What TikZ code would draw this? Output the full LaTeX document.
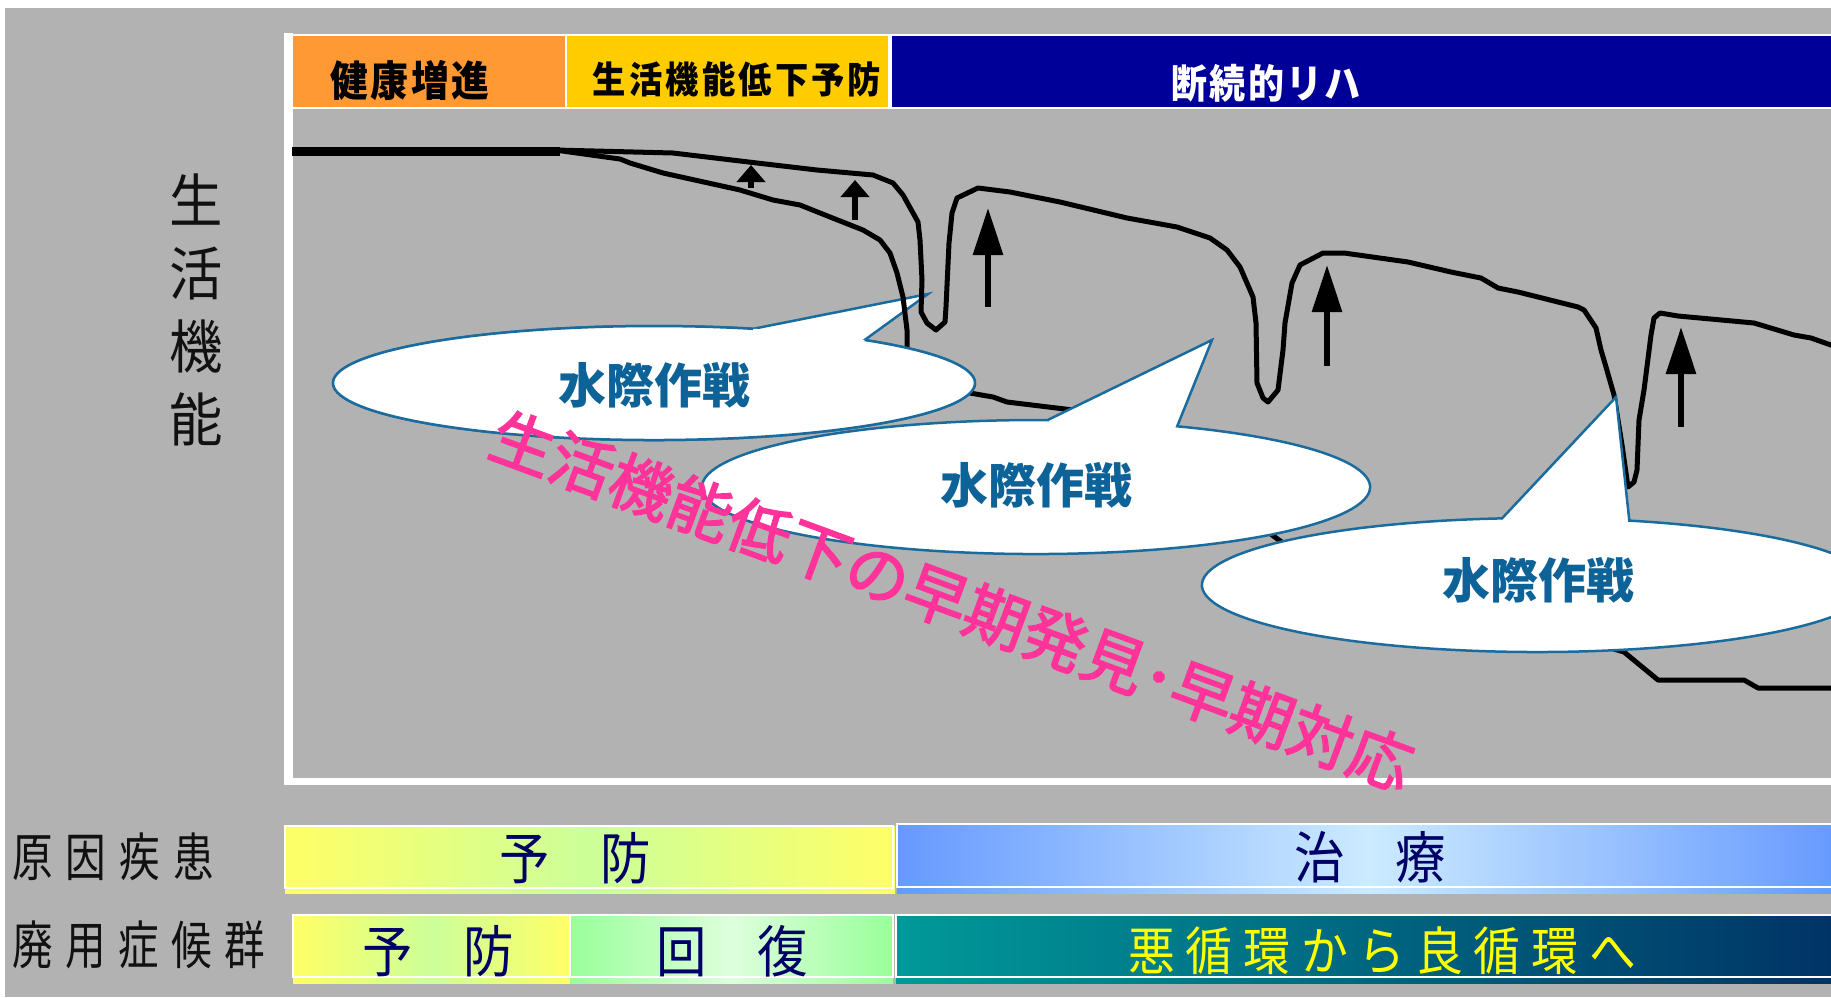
\documentclass[tikz,border=0pt]{standalone}
\usepackage{fontspec}
\newfontfamily\jp{Noto Sans CJK JP}
\usetikzlibrary{arrows.meta}
\definecolor{bgc}{HTML}{B2B2B2}
\definecolor{orangeh}{HTML}{FF9933}
\definecolor{yellowh}{HTML}{FFCC00}
\definecolor{blueh}{HTML}{000099}
\definecolor{bubline}{HTML}{1B6C9E}
\definecolor{bubtextc}{HTML}{0D6297}
\definecolor{pinkc}{HTML}{FF3399}
\definecolor{navyt}{HTML}{000066}
\definecolor{ybar}{HTML}{FFFF66}
\definecolor{ygmid}{HTML}{CCFF99}
\definecolor{gL}{HTML}{99FF99}
\definecolor{gC}{HTML}{DDFFDD}
\definecolor{bL}{HTML}{6699FF}
\definecolor{bC}{HTML}{CCEBFF}
\definecolor{tL}{HTML}{009999}
\definecolor{tM}{HTML}{006680}
\definecolor{tR}{HTML}{003366}
\definecolor{ytext}{HTML}{FFFF00}
\definecolor{labc}{HTML}{111111}
\tikzset{
  curve/.style={line width=5pt, line join=round, line cap=round},
  bubble/.style={fill=white, draw=bubline, line width=2.5pt, line join=miter},
  bubtext/.style={text=bubtextc, inner sep=0pt, font=\jp\bfseries\fontsize{48}{48}\selectfont},
  hdrbox/.style={draw=white, line width=2.5pt},
  hdrtext/.style={inner sep=0pt, xscale=0.9},
  bartext/.style={text=navyt, inner sep=0pt, xscale=0.9, font=\jp\fontsize{56}{56}\selectfont},
  labtext/.style={text=labc, inner sep=0pt, anchor=west, xscale=0.78, font=\jp\fontsize{52}{52}\selectfont},
  barframe/.style={draw=white, line width=2.5pt},
  smallar/.style={line width=6.5pt, -{Triangle[length=17pt,width=28pt]}},
  bigar/.style={line width=6pt, -{Triangle[length=47pt,width=29pt]}},
}
\begin{document}
\begin{tikzpicture}[x=1pt,y=-1pt]
\useasboundingbox (0,0) rectangle (1831,997);
\clip (0,0) rectangle (1831,997);
% background
\fill[white] (0,0) rectangle (1831,997);
\fill[bgc] (5,8) rectangle (1831,997);

% header boxes
\fill[orangeh] (292,35) rectangle (566,108);
\draw[hdrbox] (292,35) rectangle (566,108);
\fill[yellowh] (566,35) rectangle (889,108);
\draw[hdrbox] (566,35) rectangle (889,108);
\fill[blueh] (891,35) rectangle (1840,108);
\draw[hdrbox] (891,35) rectangle (1840,108);
\node[hdrtext, font=\jp\bfseries\fontsize{42}{42}\selectfont] (h1) at (410,81) {健\kern3pt 康\kern3pt 増\kern3pt 進};
\node[hdrtext, font=\jp\bfseries\fontsize{37}{37}\selectfont] (h2) at (737,79) {生\kern3.5pt 活\kern3.5pt 機\kern3.5pt 能\kern3.5pt 低\kern3.5pt 下\kern3.5pt 予\kern3.5pt 防};
\node[hdrtext, text=white, font=\jp\bfseries\fontsize{40}{40}\selectfont] (h3) at (1266,83) {断\kern2.5pt 続\kern2.5pt 的\kern2.5pt リ\kern2.5pt ハ};

% frame
\draw[white, line width=9pt] (288,33) -- (288,785);
\draw[white, line width=7pt] (284,781) -- (1840,781);

% y label
\node[text=labc, inner sep=0pt, align=center, xscale=0.92, font=\jp\fontsize{58}{73}\selectfont] (ylab) at (196,310) {生\\活\\機\\能};

% bubble 1 (behind the curves)
\draw[bubble] (753.2,328.8) -- (928,294) -- (864.6,340) arc[start angle=-49, end angle=288, x radius=321, y radius=57] -- cycle;

% curves
\draw[line width=9pt] (292,151) -- (560,151);
\draw[curve] (555,150) -- (673,153) -- (757,163) -- (817,170) -- (873,175) -- (893,183) -- (903,195) -- (918,222) -- (920,240) -- (922,280) -- (921,312) -- (927,323) -- (936,330) -- (945,322) -- (946,307) -- (949,243) -- (952,213) -- (957,198) -- (978,188) -- (1010,192) -- (1060,202) -- (1127,218) -- (1177,227) -- (1210,238) -- (1227,250) -- (1240,267) -- (1253,297) -- (1256,323) -- (1257,383) -- (1263,398) -- (1268,402) -- (1278,390) -- (1283,350) -- (1285,323) -- (1292,283) -- (1300,265) -- (1323,253) -- (1344,253) -- (1408,262) -- (1451,272) -- (1481,278) -- (1498,288) -- (1518,292) -- (1578,307) -- (1584,310) -- (1596,328) -- (1601,350) -- (1606,367) -- (1614,395) -- (1622,445) -- (1628,487) -- (1634,482) -- (1637,470) -- (1639,420) -- (1644,390) -- (1651,335) -- (1654,318) -- (1660,313) -- (1678,316) -- (1754,323) -- (1794,335) -- (1811,338) -- (1845,350);
\draw[curve] (555,150) -- (620,159) -- (630,163) -- (663,173) -- (740,190) -- (773,200) -- (800,205) -- (830,217) -- (863,230) -- (880,240) -- (890,253) -- (897,273) -- (903,297) -- (907,330) -- (907,350) -- (915,370) -- (950,388) -- (970,393) -- (993,397) -- (1007,402) -- (1073,410) -- (1120,430) -- (1200,470) -- (1272,535) -- (1290,548) -- (1450,600) -- (1624,652) -- (1658,680) -- (1744,680) -- (1758,688) -- (1845,688);

% arrows
\draw[smallar] (751,188) -- (751,165);
\draw[smallar] (855,220) -- (855,180);
\draw[bigar] (988,307) -- (988,208);
\draw[bigar] (1327,366) -- (1327,265);
\draw[bigar] (1681,427) -- (1681,327);

% bubble 1 body over the curves
\fill[white] (654,383) ellipse[x radius=321, y radius=57];
\draw[draw=bubline, line width=2.5pt] (864.6,340) arc[start angle=-49, end angle=288, x radius=321, y radius=57];
\node[bubtext] (w1) at (654,385) {水際作戦};

% bubble 2
\draw[bubble] (1047.7,420) -- (1212,340) -- (1177.2,426.3) arc[start angle=-65, end angle=272, x radius=334, y radius=67] -- cycle;
\node[bubtext] (w2) at (1036,485) {水際作戦};

% bubble 3
\draw[bubble] (1502,518.4) -- (1616,397) -- (1629.3,520.6) arc[start angle=-74, end angle=264, x radius=335, y radius=67] -- cycle;
\node[bubtext] (w3) at (1538,580) {水際作戦};

% bottom bars
\shade[left color=ybar, right color=ybar, middle color=ygmid] (285,826) rectangle (895,893);
\draw[barframe] (285,826) rectangle (893,888);
\shade[left color=bL, right color=bL, middle color=bC] (897,824) rectangle (1840,893);
\draw[barframe] (897,824) rectangle (1840,887);
\shade[left color=ybar, right color=ybar, middle color=ygmid] (293,915) rectangle (570,983);
\draw[barframe] (293,915) rectangle (570,977);
\shade[left color=gL, right color=gL, middle color=gC] (570,915) rectangle (893,983);
\draw[barframe] (570,915) rectangle (893,977);
\shade[left color=tL, right color=tR, middle color=tM] (896,915) rectangle (1840,983);
\draw[barframe] (896,915) rectangle (1840,977);

\node[labtext] (l1) at (12,857) {原\kern17pt 因\kern17pt 疾\kern17pt 患};
\node[labtext] (l2) at (12,945) {廃\kern16pt 用\kern16pt 症\kern16pt 候\kern16pt 群};
\node[bartext] (t1) at (575,858) {予　防};
\node[bartext] (t2) at (1370,857) {治　療};
\node[bartext] (t3) at (438,951) {予　防};
\node[bartext] (t4) at (732,951) {回　復};
\node[bartext, text=ytext, font=\jp\fontsize{52}{52}\selectfont] (t5) at (1382,951) {悪\kern12pt 循\kern12pt 環\kern12pt か\kern12pt ら\kern12pt 良\kern12pt 循\kern12pt 環\kern12pt へ};

% diagonal pink text
\node[text=pinkc, inner sep=0pt, rotate=-20.2, font=\jp\fontsize{63}{63}\selectfont\addfontfeature{FakeBold=2.5}] (pk) at (952,601) {生活機能低下の早期発見･早期対応};
\end{tikzpicture}
\end{document}
